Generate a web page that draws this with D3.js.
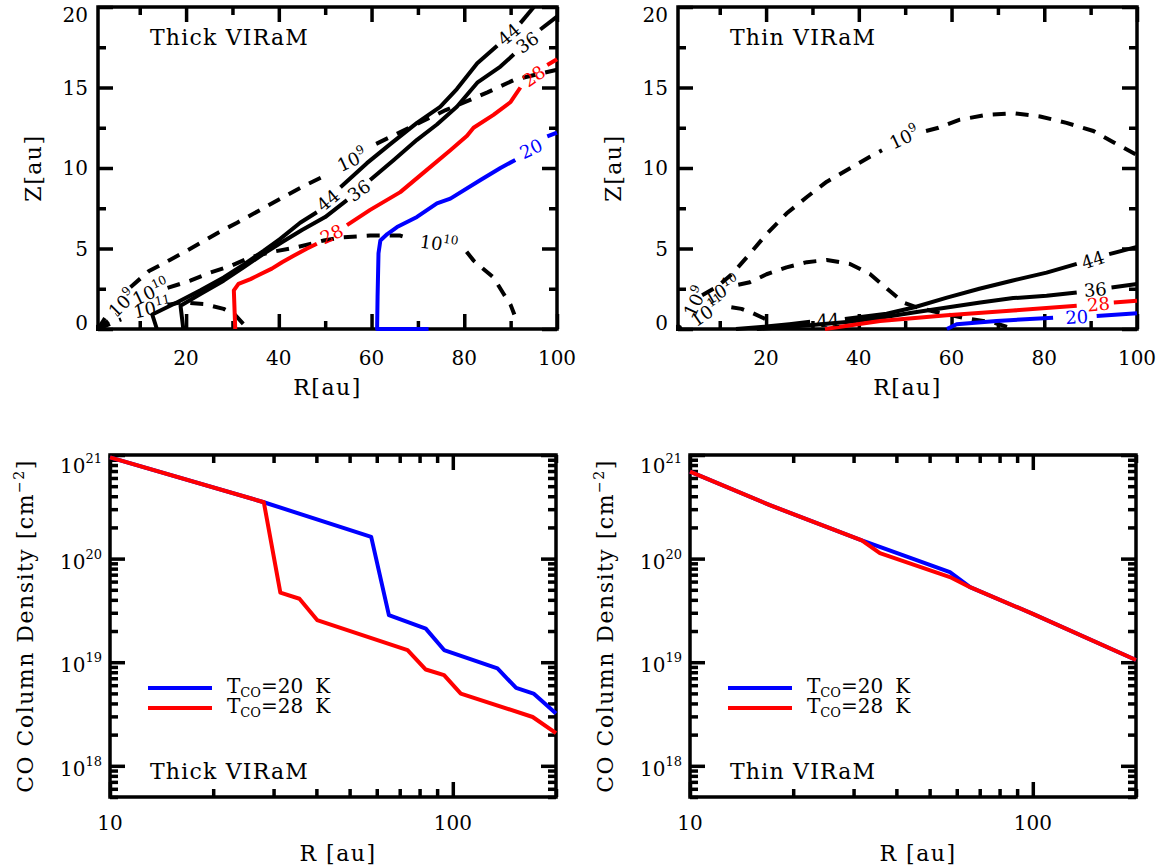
<!DOCTYPE html>
<html>
<head>
<meta charset="utf-8">
<script src="https://cdn.jsdelivr.net/npm/d3@7"></script>
<style>
  body { margin: 0; background: #fff; }
  text { font-family: "DejaVu Serif", serif; fill: #000; }
</style>
</head>
<body>
<script>
var width = 1164,
    height = 865;

// ---- top panels: temperature (solid) and density (dashed) contours, [R au, Z au]
// each contour is split into pieces where the contour label sits
var thick44 = [
    [[13.7, 0], [12.7, 0.9], [18, 1.65], [23.1, 2.4], [28.1, 3.2], [32.4, 4.0], [36.7, 4.85], [40.3, 5.6], [44.6, 6.6], [48.2, 7.25]],
    [[53.3, 8.8], [59, 10.3], [64.1, 11.5], [69.8, 12.8], [74.8, 13.8], [78.4, 14.9], [82.8, 16.5], [87.1, 17.6]],
    [[92.1, 19.0], [95, 20]]
];
var thick36 = [
    [[19.4, 0], [18.8, 1.44], [23.1, 2.17], [28.1, 3.0], [32.4, 3.83], [36.7, 4.67], [41, 5.45], [45, 6.15], [50, 6.95], [54.7, 8.0]],
    [[59.7, 9.25], [64.8, 10.5], [69.8, 11.75], [74.1, 12.7], [78.4, 13.8], [82.8, 15.3], [87.8, 16.3], [90.7, 17.06]],
    [[96.4, 18.6], [100, 19.4]]
];
var thick28 = [
    [[30.6, 0], [30.3, 2.4], [31.3, 2.8], [33.9, 3.1], [36, 3.4], [38.5, 3.75], [40.7, 4.15], [43.2, 4.55], [46.1, 5.0], [48.2, 5.3]],
    [[54.7, 6.45], [59.7, 7.4], [66.2, 8.5], [72, 9.9], [77, 11.1], [80.6, 12.0], [82, 12.5], [86.3, 13.3], [90, 14.1], [92.1, 15.0]],
    [[97.9, 16.4], [100, 16.75]]
];
var thick20 = [
    [[72.3, 0], [61.2, 0], [61.3, 2], [61.5, 4.7], [61.9, 5.5], [63.4, 5.9], [65.5, 6.33], [69.8, 6.96], [74.1, 7.8], [77, 8.1], [83.5, 9.25], [87.8, 10.0], [91, 10.5]],
    [[97.9, 11.96], [100, 12.2]]
];
var thickD9 = [
    [[1, 0], [3, 0.9]],
    [[8, 2.6], [12, 3.6], [16.6, 4.3], [21, 5.0], [27, 6.0], [31, 6.6], [36, 7.4], [41, 8.2], [45.5, 8.9], [50.5, 9.6]],
    [[61, 11.5], [66, 12.2], [71, 12.9], [76, 13.6], [81, 14.2], [85, 14.7], [91, 15.5], [100, 16.1]]
];
var thickD10 = [
    [[1, 0], [5, 0.9]],
    [[16, 2.55], [20.9, 3.0], [25.2, 3.5], [29.5, 3.9], [33.9, 4.46], [38.2, 4.77], [43.9, 5.08], [49.7, 5.5], [54, 5.7], [59.7, 5.8], [66.2, 5.8], [68.5, 5.6]],
    [[80.5, 4.8], [82, 4.25], [86.3, 3.2], [88.5, 2.17], [90, 1.5], [90.8, 0.9]]
];
var thickD11 = [
    [[1, 0], [6, 0.6]],
    [[16, 1.5], [18.8, 1.65], [23.8, 1.55], [28.1, 1.25], [30.5, 0.9], [32.4, 0.3], [33, 0]]
];
// label text, exponent, R, Z, rotation (deg)
var thickLabels = [
    ['44', '', 50.6, 8.0, -40], ['44', '', 89.6, 18.3, -40],
    ['36', '', 57.3, 8.6, -35], ['36', '', 93.6, 17.8, -35],
    ['28', '', 51.4, 5.9, -25], ['28', '', 95, 15.7, -35],
    ['20', '', 94.4, 11.2, -25],
    ['10', '9', 55.8, 10.5, -25], ['10', '10', 74.5, 5.3, 8],
    ['10', '9', 6.2, 1.6, -45], ['10', '10', 12.4, 2.3, -25], ['10', '11', 12.7, 1.3, -12]
];
var thickLabelColors = ['#000', '#000', '#000', '#000', '#f00', '#f00', '#00f', '#000', '#000', '#000', '#000', '#000'];

var thin44 = [
    [[13.5, 0], [20, 0.15], [25, 0.3], [29.5, 0.45]],
    [[37, 0.62], [46, 0.95], [52, 1.35], [59, 1.95], [66, 2.5], [73, 3.0], [80.5, 3.5], [87, 4.05]],
    [[94, 4.65], [100, 5.1]]
];
var thin36 = [
    [[18, 0], [30, 0.25], [38, 0.45], [44.6, 0.7], [51.8, 1.02], [59, 1.33], [66.2, 1.65], [73.3, 1.92], [80.5, 2.06], [87, 2.27]],
    [[94.5, 2.58], [100, 2.79]]
];
var thin28 = [
    [[32.7, 0], [44.6, 0.5], [59, 0.85], [73.3, 1.15], [87, 1.45]],
    [[95, 1.65], [100, 1.75]]
];
var thin20 = [
    [[59, 0], [61.1, 0.3], [69.7, 0.5], [81.9, 0.7]],
    [[91.3, 0.81], [100, 0.98]]
];
var thinD9 = [
    [[6.2, 2.1], [9.3, 2.6], [12.6, 3.4], [16.5, 4.67], [20.1, 5.9], [24.4, 7.17], [28.8, 8.2], [33.1, 9.15], [38.1, 9.98], [42.4, 10.7], [45, 11.1]],
    [[54.5, 12.3], [57.2, 12.5], [61.8, 13.0], [67.6, 13.3], [73.3, 13.4], [79.1, 13.2], [84.8, 12.8], [90.6, 12.3], [94.9, 11.6], [100, 10.8]]
];
var thinD10 = [
    [[14, 2.75], [16.5, 2.9], [20.1, 3.4], [24.4, 3.83], [28.8, 4.15], [33.1, 4.29], [38.1, 4.04], [42.4, 3.42], [46.3, 2.45], [49.6, 1.65], [52.5, 1.35], [56, 1.1], [62.5, 0.7], [69, 0.4], [72.6, 0.08]]
];
var thinD11 = [
    [[12.5, 1.35], [14.7, 1.25], [17, 1.0], [20, 0.6], [21.5, 0.1]]
];
var thinLabels = [
    ['10', '9', 4.7, 1.7, -65], ['10', '10', 10.5, 2.4, -30], ['10', '11', 7.5, 1.1, -35],
    ['10', '9', 49.8, 11.9, -25],
    ['44', '', 33.4, 0.55, -3], ['44', '', 90.5, 4.3, -18],
    ['36', '', 91, 2.45, -5], ['28', '', 91.7, 1.55, -5], ['20', '', 87, 0.75, -3]
];
var thinLabelColors = ['#000', '#000', '#000', '#000', '#000', '#000', '#000', '#f00', '#00f'];

var originDot = [1, 0];

var zMajor = [0, 5, 10, 15, 20],
    zMinor = [2.5, 7.5, 12.5, 17.5],
    rMajor = [20, 40, 60, 80, 100],
    rMinor = [10, 30, 50, 70, 90];

// ---- bottom panels: CO column density vs R
var thickR20 = [10, 28.1, 57.8, 65.1, 83.4, 94.3, 135, 153, 172, 200];
var thickN20 = [9.5e20, 3.5e20, 1.62e20, 2.85e19, 2.11e19, 1.31e19, 8.7e18, 5.65e18, 4.98e18, 3.2e18];
var thickR28 = [10, 28.1, 31.4, 35.7, 40.2, 73.8, 83.4, 94.3, 105.5, 171, 200];
var thickN28 = [9.5e20, 3.5e20, 4.7e19, 4.1e19, 2.55e19, 1.31e19, 8.5e18, 7.5e18, 4.98e18, 2.96e18, 2.07e18];

var thinR20 = [10, 17.1, 31.7, 57.3, 65.6, 100, 200];
var thinN20 = [6.9e20, 3.28e20, 1.5e20, 7.4e19, 5.3e19, 2.93e19, 1.05e19];
var thinR28 = [10, 17.1, 31.7, 35.8, 57.3, 65.6, 100, 200];
var thinN28 = [6.9e20, 3.28e20, 1.5e20, 1.13e20, 6.64e19, 5.3e19, 2.93e19, 1.05e19];

var legendNames = ['20', '28'];

var svg = d3.select('body')
    .append('svg')
    .attr('width', width)
    .attr('height', height);

function drawTicks(g, scale, vals, len, side, pos) {
    var axis = side === 'bottom' ? d3.axisBottom(scale)
        : side === 'top' ? d3.axisTop(scale)
        : side === 'left' ? d3.axisLeft(scale) : d3.axisRight(scale);
    axis.tickValues(vals).tickSize(-len).tickFormat('');
    var tr = (side === 'bottom' || side === 'top') ? 'translate(0,' + pos + ')' : 'translate(' + pos + ',0)';
    var a = g.append('g').attr('transform', tr).call(axis);
    a.select('.domain').remove();
    a.selectAll('line').attr('stroke', '#000').attr('stroke-width', 3.5);
}

function frame(g, left, top, w, h) {
    g.append('rect')
        .attr('x', left).attr('y', top)
        .attr('width', w).attr('height', h)
        .attr('fill', 'none')
        .attr('stroke', '#000')
        .attr('stroke-width', 3.5);
}

function clipFor(id, left, top, w, h) {
    svg.append('clipPath').attr('id', id)
        .append('rect')
        .attr('x', left - 2).attr('y', top - 2)
        .attr('width', w + 4).attr('height', h + 4);
    return 'url(#' + id + ')';
}

function sideTitles(g, xTitle, xt, yTitle, yx, yy) {
    g.append('text')
        .attr('x', xt[0]).attr('y', xt[1])
        .attr('text-anchor', 'middle')
        .attr('font-size', 22)
        .attr('letter-spacing', 1.5)
        .text(xTitle);
    var t = g.append('text')
        .attr('transform', 'translate(' + yx + ',' + yy + ') rotate(-90)')
        .attr('text-anchor', 'middle')
        .attr('font-size', 22)
        .attr('letter-spacing', 1.5);
    yTitle(t);
}

function contourPanel(left, top, w, h, lines, labels, labelColors, title, id) {
    var x = d3.scaleLinear().domain([1, 100]).range([left, left + w]);
    var y = d3.scaleLinear().domain([0, 20]).range([top + h, top]);
    var g = svg.append('g');

    frame(g, left, top, w, h);
    drawTicks(g, x, rMajor, 15, 'bottom', top + h);
    drawTicks(g, x, rMinor, 8, 'bottom', top + h);
    drawTicks(g, x, rMajor, 15, 'top', top);
    drawTicks(g, x, rMinor, 8, 'top', top);
    drawTicks(g, y, zMajor, 15, 'left', left);
    drawTicks(g, y, zMinor, 8, 'left', left);
    drawTicks(g, y, zMajor, 15, 'right', left + w);
    drawTicks(g, y, zMinor, 8, 'right', left + w);

    g.selectAll('.xl').data(rMajor).enter().append('text')
        .attr('x', function (d) { return x(d); })
        .attr('y', top + h + 36)
        .attr('text-anchor', 'middle')
        .attr('font-size', 20)
        .text(function (d) { return d; });
    g.selectAll('.yl').data(zMajor).enter().append('text')
        .attr('x', left - 10)
        .attr('y', function (d) { return y(d) + 7 + (d === 20 ? 8 : d === 0 ? -6 : 0); })
        .attr('text-anchor', 'end')
        .attr('font-size', 20)
        .text(function (d) { return d; });

    sideTitles(g, 'R[au]', [left + w / 2, top + h + 66], function (t) { t.text('Z[au]'); }, left - 57, top + h / 2);

    g.append('text')
        .attr('x', left + 52).attr('y', top + 38)
        .attr('font-size', 22)
        .attr('letter-spacing', 1.2)
        .text(title);

    var line = d3.line().x(function (d) { return x(d[0]); }).y(function (d) { return y(d[1]); });
    var data = g.append('g').attr('clip-path', clipFor(id, left, top, w, h));
    lines.forEach(function (c) {
        data.selectAll(null).data(c.segs).enter().append('path')
            .attr('d', line)
            .attr('fill', 'none')
            .attr('stroke', c.color)
            .attr('stroke-width', 4)
            .attr('stroke-linejoin', 'round')
            .attr('stroke-dasharray', c.dash ? '13,10' : null);
    });
    data.append('circle')
        .attr('cx', x(originDot[0])).attr('cy', y(originDot[1]))
        .attr('r', 4.5).attr('fill', '#000');

    labels.forEach(function (l, i) {
        var t = g.append('text')
            .attr('transform', 'translate(' + x(l[2]) + ',' + y(l[3]) + ') rotate(' + l[4] + ')')
            .attr('text-anchor', 'middle')
            .attr('dy', '0.36em')
            .attr('font-size', 18)
            .style('fill', labelColors[i])
            .text(l[0]);
        if (l[1]) {
            t.append('tspan').attr('dy', -8).attr('font-size', 12).text(l[1]);
        }
    });
}

function columnPanel(left, top, w, h, R20, N20, R28, N28, title, id) {
    var x = d3.scaleLog().domain([10, 200]).range([left, left + w]);
    var y = d3.scaleLog().domain([5e17, 1e21]).range([top + h, top]);
    var g = svg.append('g');

    var xMajor = [10, 100],
        xMinor = [20, 30, 40, 50, 60, 70, 80, 90, 200],
        yMajor = [1e18, 1e19, 1e20, 1e21],
        yMinor = y.ticks().filter(function (d) {
            var e = Math.log10(d);
            return Math.abs(e - Math.round(e)) > 1e-6;
        });

    frame(g, left, top, w, h);
    drawTicks(g, x, xMajor, 15, 'bottom', top + h);
    drawTicks(g, x, xMinor, 8, 'bottom', top + h);
    drawTicks(g, x, xMajor, 15, 'top', top);
    drawTicks(g, x, xMinor, 8, 'top', top);
    drawTicks(g, y, yMajor, 15, 'left', left);
    drawTicks(g, y, yMinor, 8, 'left', left);
    drawTicks(g, y, yMajor, 15, 'right', left + w);
    drawTicks(g, y, yMinor, 8, 'right', left + w);

    g.selectAll('.xl').data(xMajor).enter().append('text')
        .attr('x', function (d) { return x(d); })
        .attr('y', top + h + 33)
        .attr('text-anchor', 'middle')
        .attr('font-size', 20)
        .text(function (d) { return d; });
    yMajor.forEach(function (d) {
        var e = Math.round(Math.log10(d));
        var t = g.append('text')
            .attr('x', left - 8)
            .attr('y', y(d) + 10 + (e === 21 ? 8 : 0))
            .attr('text-anchor', 'end')
            .attr('font-size', 20)
            .text('10');
        t.append('tspan').attr('dy', -10).attr('font-size', 13).text(e);
    });

    sideTitles(g, 'R [au]', [left + w / 2 + 5, top + h + 64], function (t) {
        t.text('CO Column Density [cm');
        t.append('tspan').attr('dy', -9).attr('font-size', 14).text('\u22122');
        t.append('tspan').attr('dy', 9).text(']');
    }, left - 77, top + h / 2);

    g.append('text')
        .attr('x', left + 40).attr('y', top + h - 18)
        .attr('font-size', 22)
        .attr('letter-spacing', 1.2)
        .text(title);

    var series = [[R20, N20, '#00f'], [R28, N28, '#f00']];
    var line = d3.line().x(function (d) { return x(d[0]); }).y(function (d) { return y(d[1]); });
    var data = g.append('g').attr('clip-path', clipFor(id, left, top, w, h));
    series.forEach(function (s) {
        data.append('path')
            .attr('d', line(d3.zip(s[0], s[1])))
            .attr('fill', 'none')
            .attr('stroke', s[2])
            .attr('stroke-width', 4)
            .attr('stroke-linejoin', 'round');
    });

    // legend
    series.forEach(function (s, i) {
        var ly = top + 233 + i * 20;
        g.append('line')
            .attr('x1', left + 38).attr('x2', left + 102)
            .attr('y1', ly).attr('y2', ly)
            .attr('stroke', s[2]).attr('stroke-width', 4);
        var t = g.append('text')
            .attr('x', left + 117).attr('y', ly + 5)
            .attr('font-size', 20)
            .text('T');
        t.append('tspan').attr('dy', 4).attr('font-size', 13).text('CO');
        t.append('tspan').attr('dy', -4).text('=' + legendNames[i]);
        t.append('tspan').attr('dx', 12).text('K');
    });
}

contourPanel(98, 7, 459, 322, [
    { segs: thickD9, color: '#000', dash: true },
    { segs: thickD10, color: '#000', dash: true },
    { segs: thickD11, color: '#000', dash: true },
    { segs: thick44, color: '#000' },
    { segs: thick36, color: '#000' },
    { segs: thick28, color: '#f00' },
    { segs: thick20, color: '#00f' }
], thickLabels, thickLabelColors, 'Thick VIRaM', 'c1');

contourPanel(678, 7, 459, 322, [
    { segs: thinD9, color: '#000', dash: true },
    { segs: thinD10, color: '#000', dash: true },
    { segs: thinD11, color: '#000', dash: true },
    { segs: thin44, color: '#000' },
    { segs: thin36, color: '#000' },
    { segs: thin28, color: '#f00' },
    { segs: thin20, color: '#00f' }
], thinLabels, thinLabelColors, 'Thin VIRaM', 'c2');

columnPanel(110, 455, 446, 342, thickR20, thickN20, thickR28, thickN28, 'Thick VIRaM', 'c3');
columnPanel(690, 455, 446, 342, thinR20, thinN20, thinR28, thinN28, 'Thin VIRaM', 'c4');
</script>
</body>
</html>
